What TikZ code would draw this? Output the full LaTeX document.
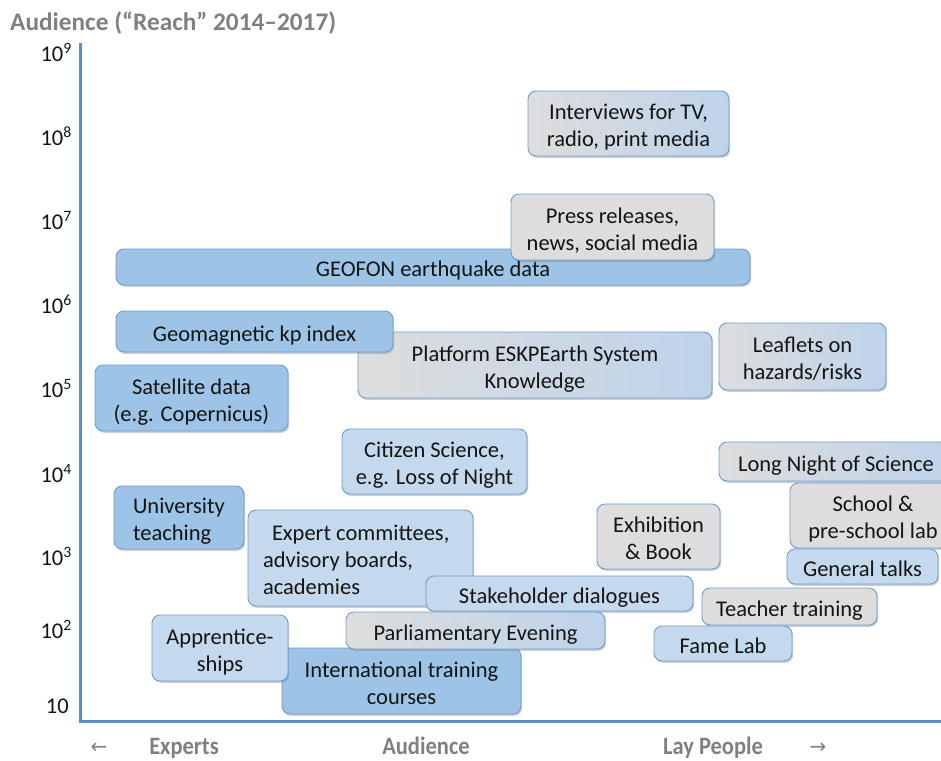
\documentclass[tikz,border=0pt]{standalone}
\usepackage{fontspec}
\setmainfont{Carlito}
\newfontfamily\arrowfont{DejaVu Sans}
\newfontfamily\condfont{Carlito}[FakeStretch=0.9]
\usetikzlibrary{shadows}
\definecolor{bxblue}{RGB}{157,195,230}
\definecolor{bxlight}{RGB}{197,217,238}
\definecolor{bxgray}{RGB}{221,221,221}
\definecolor{bxgradr}{RGB}{190,211,234}
\definecolor{bxborder}{RGB}{110,157,210}
\definecolor{axisblue}{RGB}{91,143,201}
\definecolor{labelgray}{RGB}{128,128,128}
\definecolor{txt}{RGB}{20,20,20}
\newcommand\topst{\rule{0pt}{24.5pt}}
\newcommand\botst{\rule[-5pt]{0pt}{5pt}}
\tikzset{
  bx/.style={draw=bxborder, line width=0.9pt, rounded corners=8pt, inner sep=0pt,
    align=center, text=txt,
    drop shadow={shadow xshift=1.2pt, shadow yshift=-1.8pt, opacity=0.35, fill=black!55}},
  fblue/.style={bx, fill=bxblue},
  flight/.style={bx, fill=bxlight},
  fgray/.style={bx, fill=bxgray},
  fgrad/.style={bx, left color=bxgray, right color=bxgradr},
  tick/.style={anchor=base east, inner sep=0pt, text=txt},
  bottomlbl/.style={anchor=base, inner sep=0pt, text=labelgray, font=\condfont\fontsize{25}{30}\selectfont\bfseries},
  arrowlbl/.style={anchor=base, inner sep=0pt, text=labelgray, font=\arrowfont\fontsize{20}{24}\selectfont},
  axisline/.style={draw=axisblue, line width=3pt}
}
\begin{document}
\begin{tikzpicture}[x=1pt,y=-1pt, font=\fontsize{22.5}{27}\selectfont]
\path[use as bounding box] (0,0) rectangle (941,760);
\clip (0,0) rectangle (941,760);

% title
\node[anchor=base west, inner sep=0pt, text=labelgray, font=\fontsize{25.3}{30}\selectfont\bfseries] (title) at (10,31) {Audience (“Reach” 2014–2017)};

% axes
\coordinate (ytop) at (80,43);
\coordinate (origin) at (80,721);
\coordinate (xend) at (945,721);
\draw[axisline] (ytop) -- (origin) -- (xend);

% tick labels
\node[tick] (t9) at (72,61) {10\textsuperscript{9}};
\node[tick] (t8) at (72,145) {10\textsuperscript{8}};
\node[tick] (t7) at (72,229) {10\textsuperscript{7}};
\node[tick] (t6) at (72,313) {10\textsuperscript{6}};
\node[tick] (t5) at (72,397) {10\textsuperscript{5}};
\node[tick] (t4) at (72,482) {10\textsuperscript{4}};
\node[tick] (t3) at (72,565) {10\textsuperscript{3}};
\node[tick] (t2) at (72,638) {10\textsuperscript{2}};
\node[tick] (t1) at (69,713) {10};

% bottom labels
\node[arrowlbl] (larr) at (99,753) {←};
\node[bottomlbl] (experts) at (184,754) {Experts};
\node[bottomlbl] (aud) at (426,754) {Audience};
\node[bottomlbl] (lay) at (713,754) {Lay People};
\node[arrowlbl] (rarr) at (818,753) {→};

% boxes
\node[fgrad, minimum width=201pt, minimum height=65pt] (interviews) at (628.5,123.5) {\topst Interviews for TV,\\radio, print media\botst};
\node[fblue, minimum width=634pt, minimum height=36pt] (geofon) at (433,267) {\topst GEOFON earthquake data\botst};
\node[fgray, minimum width=203pt, minimum height=66pt] (press) at (612.5,227) {\topst Press releases,\\news, social media\botst};
\node[fgrad, minimum width=354pt, minimum height=66pt] (platform) at (535,365) {\topst Platform ESKPEarth System\\Knowledge\botst};
\node[fblue, minimum width=277pt, minimum height=41pt] (geomag) at (254.5,331.5) {\topst Geomagnetic kp index\botst};
\node[fgrad, minimum width=167pt, minimum height=67pt] (leaflets) at (802.5,356.5) {\topst Leaflets on\\hazards/risks\botst};
\node[fblue, minimum width=193pt, minimum height=66pt] (satellite) at (191.5,398) {\topst Satellite data\\(e.g. Copernicus)\botst};
\node[flight, minimum width=185pt, minimum height=65pt] (citizen) at (434.5,461.5) {\topst Citizen Science,\\e.g. Loss of Night\botst};
\node[fgrad, minimum width=234pt, minimum height=39pt] (longnight) at (836,461.5) {\topst Long Night of Science\botst};
\node[fblue, text width=130pt, align=flush left, minimum height=63pt] (university) at (179,517.5) {\topst\hspace*{19pt}University\\\hspace*{19pt}teaching\botst};
\node[fgray, minimum width=166pt, minimum height=65pt] (school) at (873,515.5) {\topst School \&\\pre-school lab\botst};
\node[flight, minimum width=151pt, minimum height=35pt] (general) at (862.5,566.5) {\topst General talks\botst};
\node[fgray, minimum width=123pt, minimum height=65pt] (exhibition) at (658.5,536.5) {\topst Exhibition\\\& Book\botst};
\node[flight, text width=225pt, align=flush left, minimum height=96pt] (expert) at (360.5,558) {\topst\hspace*{24pt}\mbox{Expert committees,}\\\hspace*{15pt}advisory boards,\\\hspace*{15pt}academies\botst};
\node[flight, minimum width=267pt, minimum height=35pt] (stakeholder) at (559.5,593.5) {\topst Stakeholder dialogues\botst};
\node[fgray, minimum width=175pt, minimum height=37pt] (teacher) at (789.5,606.5) {\topst Teacher training\botst};
\node[flight, minimum width=138pt, minimum height=35pt] (famelab) at (723,643.5) {\topst Fame Lab\botst};
\node[fblue, minimum width=239pt, minimum height=66pt] (international) at (401.5,681) {\topst International training\\courses\botst};
\node[fgrad, minimum width=259pt, minimum height=37pt] (parliament) at (475.5,630.5) {\topst Parliamentary Evening\botst};
\node[flight, minimum width=136pt, minimum height=66pt] (apprentice) at (220,648) {\topst Apprentice-\\ships\botst};
\end{tikzpicture}
\end{document}
